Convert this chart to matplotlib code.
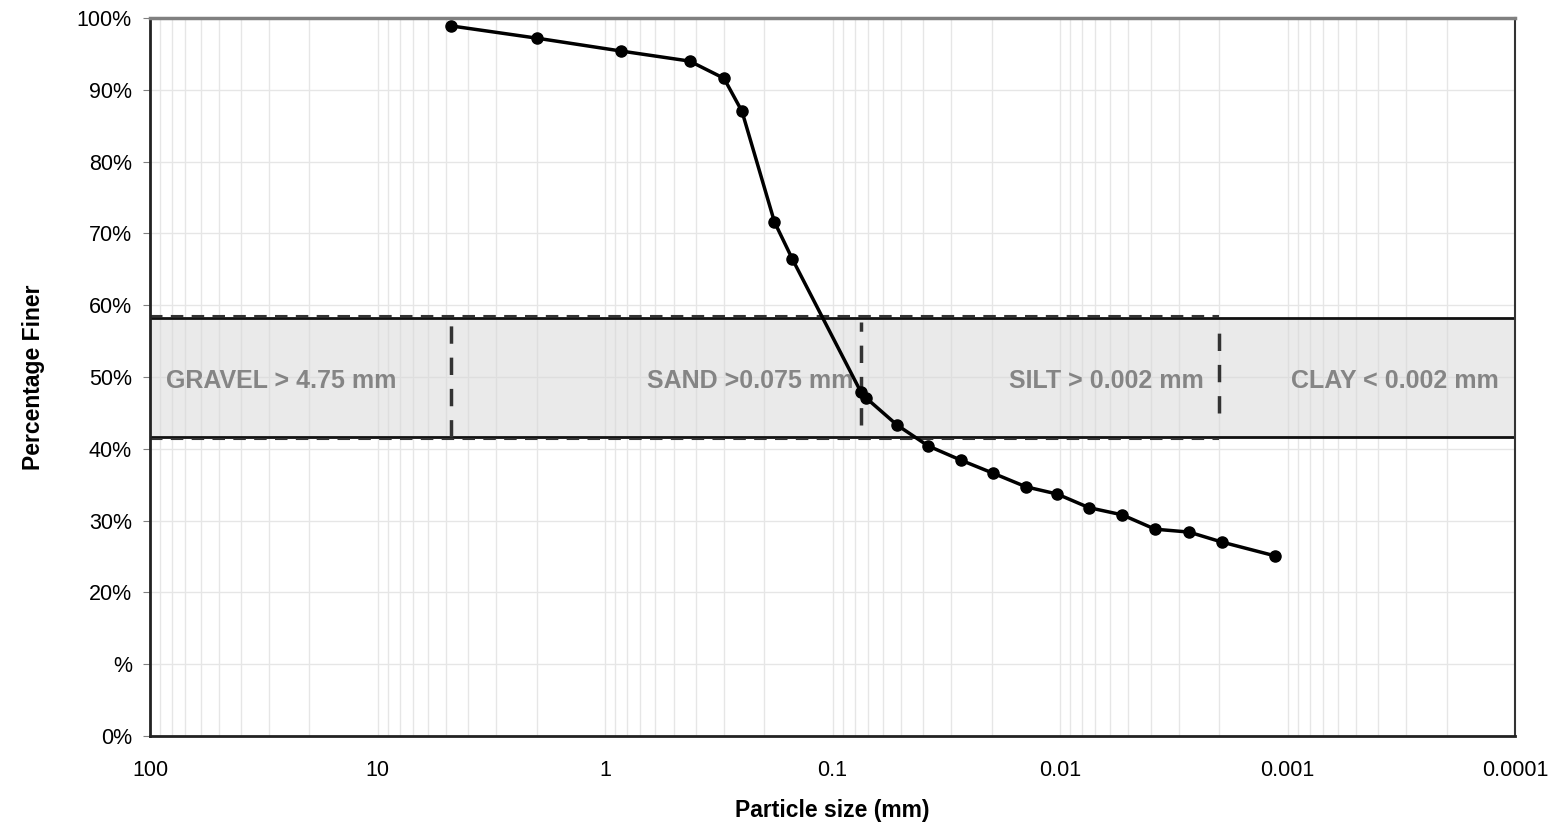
import numpy as np
import matplotlib
matplotlib.use('Agg')
import matplotlib.pyplot as plt
from matplotlib.ticker import FixedLocator, LogLocator, NullFormatter

plt.rcParams['font.family'] = ['Liberation Sans', 'DejaVu Sans']

# sieve / hydrometer results
size_mm = [4.75, 2.0, 0.85, 0.425, 0.3, 0.25, 0.18, 0.15, 0.075, 0.0713,
           0.052, 0.038, 0.0272, 0.0197, 0.0141, 0.0103, 0.00746, 0.00533,
           0.00382, 0.00271, 0.00194, 0.00114]
finer = [98.9, 97.2, 95.4, 94.0, 91.6, 87.0, 71.6, 66.4, 47.9, 47.1,
         43.3, 40.4, 38.4, 36.6, 34.7, 33.7, 31.8, 30.8, 28.8, 28.4,
         27.0, 25.1]

# soil classes
band_lo, band_hi = 41.6, 58.2
bounds = [4.75, 0.075, 0.002]
bound_lo = [41.6, 43.3, 45.0]
bound_hi = [58.2, 57.7, 56.7]
class_text = ['GRAVEL > 4.75 mm', 'SAND >0.075 mm', 'SILT > 0.002 mm', 'CLAY < 0.002 mm']
class_x = [85, 0.081, 0.00233, 0.000118]
class_ha = ['left', 'right', 'right', 'right']

y_ticks = [0, 10, 20, 30, 40, 50, 60, 70, 80, 90, 100]
y_labels = ['0%', '%', '20%', '30%', '40%', '50%', '60%', '70%', '80%', '90%', '100%']
x_ticks = [100, 10, 1, 0.1, 0.01, 0.001, 0.0001]
x_labels = ['100', '10', '1', '0.1', '0.01', '0.001', '0.0001']

fig = plt.figure(figsize=(15.58, 8.30), dpi=100)
ax = fig.add_axes([0.0963, 0.1133, 0.8761, 0.865])

ax.set_xscale('log')
ax.set_xlim(100, 0.0001)
ax.set_ylim(0, 100)

ax.xaxis.set_major_locator(FixedLocator(x_ticks))
ax.xaxis.set_minor_locator(LogLocator(base=10, subs=np.arange(2, 10), numticks=20))
ax.xaxis.set_minor_formatter(NullFormatter())
ax.set_xticks(x_ticks)
ax.set_xticklabels(x_labels)
ax.set_yticks(y_ticks)
ax.set_yticklabels(y_labels)

ax.grid(True, which='both', axis='x', color='#e6e6e6', lw=1, zorder=0)
ax.grid(True, which='major', axis='y', color='#e6e6e6', lw=1, zorder=0)
ax.set_axisbelow(True)

ax.tick_params(axis='both', which='major', labelsize=15.5, length=5, color='#808080', pad=8)
ax.tick_params(axis='x', which='minor', length=0)
ax.tick_params(axis='x', which='major', length=0, pad=17)

for s in ['left', 'bottom']:
    ax.spines[s].set_linewidth(2)
    ax.spines[s].set_color('#222222')
ax.spines['top'].set_color('#808080')
ax.spines['top'].set_linewidth(2.5)
ax.spines['right'].set_color('#333333')
ax.spines['right'].set_linewidth(1.5)

# classification band
ax.axhspan(band_lo, band_hi, facecolor='#d9d9d9', alpha=0.55, edgecolor='none', zorder=1)
ax.axhline(band_lo, color='#111111', lw=2, zorder=2)
ax.axhline(band_hi, color='#111111', lw=2, zorder=2)
ax.plot([100, 0.002], [band_hi + 0.3, band_hi + 0.3], color='#333333', lw=1.5,
        ls=(0, (6, 4)), zorder=2)
ax.plot([100, 0.002], [band_lo - 0.3, band_lo - 0.3], color='#333333', lw=1.5,
        ls=(0, (6, 4)), zorder=2)
ax.vlines(bounds, bound_lo, bound_hi, colors='#333333', lw=2.5,
          linestyles=(0, (5, 4)), zorder=2)

for t, xx, ha in zip(class_text, class_x, class_ha):
    ax.text(xx, 49.8, t, ha=ha, va='center_baseline', fontsize=18, fontweight='bold',
            color='#858585', zorder=3)

ax.plot(size_mm, finer, color='black', lw=2.5, marker='o', ms=8, zorder=4)

ax.set_xlabel('Particle size (mm)', fontsize=16.5, fontweight='bold', labelpad=13)
ax.set_ylabel('Percentage Finer', fontsize=16.5, fontweight='bold', labelpad=23)

fig.savefig('out.png', dpi=100)
